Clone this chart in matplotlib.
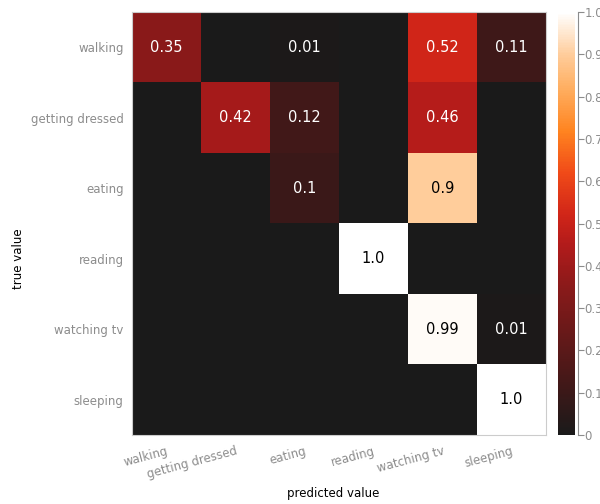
import numpy as np
import matplotlib
matplotlib.use('Agg')
import matplotlib.pyplot as plt
from matplotlib.colors import LinearSegmentedColormap

# activity classes and confusion matrix (rows = true, cols = predicted)
labels = ['walking', 'getting dressed', 'eating', 'reading', 'watching tv', 'sleeping']
row_walking = [0.35, 0.0, 0.01, 0.0, 0.52, 0.11]
row_dressed = [0.0, 0.42, 0.12, 0.0, 0.46, 0.0]
row_eating = [0.0, 0.0, 0.1, 0.0, 0.9, 0.0]
row_reading = [0.0, 0.0, 0.0, 1.0, 0.0, 0.0]
row_tv = [0.0, 0.0, 0.0, 0.0, 0.99, 0.01]
row_sleeping = [0.0, 0.0, 0.0, 0.0, 0.0, 1.0]
cbar_ticks = [0, 0.1, 0.2, 0.3, 0.4, 0.5, 0.6, 0.7, 0.8, 0.9, 1.0]
cbar_ticklabels = ['0', '0.1', '0.2', '0.3', '0.4', '0.5', '0.6', '0.7', '0.8', '0.9', '1.0']

cm = np.array([row_walking, row_dressed, row_eating, row_reading, row_tv, row_sleeping])

# heat-like colormap: near black -> red -> orange -> cream -> white
heat = LinearSegmentedColormap.from_list('heat', [
    (0.0, '#1a1a1a'),
    (0.12, '#421818'),
    (0.35, '#8a1a1a'),
    (0.45, '#b21b1b'),
    (0.52, '#d02518'),
    (0.62, '#f04a18'),
    (0.72, '#ff8420'),
    (0.82, '#ffae60'),
    (0.9, '#ffcc9a'),
    (1.0, '#ffffff'),
])

fig = plt.figure(figsize=(6.0, 5.04), dpi=100)
ax = fig.add_axes([0.22, 0.137, 0.69, 0.839])
cax = fig.add_axes([0.93, 0.137, 0.028, 0.839])

im = ax.imshow(cm, cmap=heat, vmin=0, vmax=1, aspect='auto', interpolation='nearest')

# write values in the non-zero cells
for i in range(cm.shape[0]):
    for j in range(cm.shape[1]):
        v = cm[i, j]
        if v > 0:
            color = 'black' if v > 0.8 else 'white'
            ax.text(j, i, str(round(v, 2)), ha='center', va='center',
                    color=color, fontsize=10.5)

ax.set_xticks(range(len(labels)))
ax.set_yticks(range(len(labels)))
ax.set_xticklabels(labels, rotation=15, ha='right', rotation_mode='anchor',
                   color='#8c8c8c', fontsize=8.5)
ax.set_yticklabels(labels, color='#8c8c8c', fontsize=8.5)
ax.tick_params(length=0, pad=6)
ax.tick_params(axis='x', pad=7)
for s in ax.spines.values():
    s.set_color('#cccccc')
    s.set_linewidth(0.8)

fig.text(0.555, 1 - 494 / 504, 'predicted value', ha='center', va='center', fontsize=8.5)
fig.text(18 / 600, 0.486, 'true value', ha='center', va='center', rotation=90, fontsize=8.5)

cb = fig.colorbar(im, cax=cax)
cb.set_ticks(cbar_ticks)
cb.set_ticklabels(cbar_ticklabels)
cb.outline.set_visible(False)
cax.tick_params(colors='#8c8c8c', labelsize=8.5, length=4, width=0.8, pad=1)
cax.spines['right'].set_visible(True)
cax.spines['right'].set_color('#8c8c8c')
cax.spines['right'].set_position(('outward', 2))

fig.savefig('out.png', dpi=100)
